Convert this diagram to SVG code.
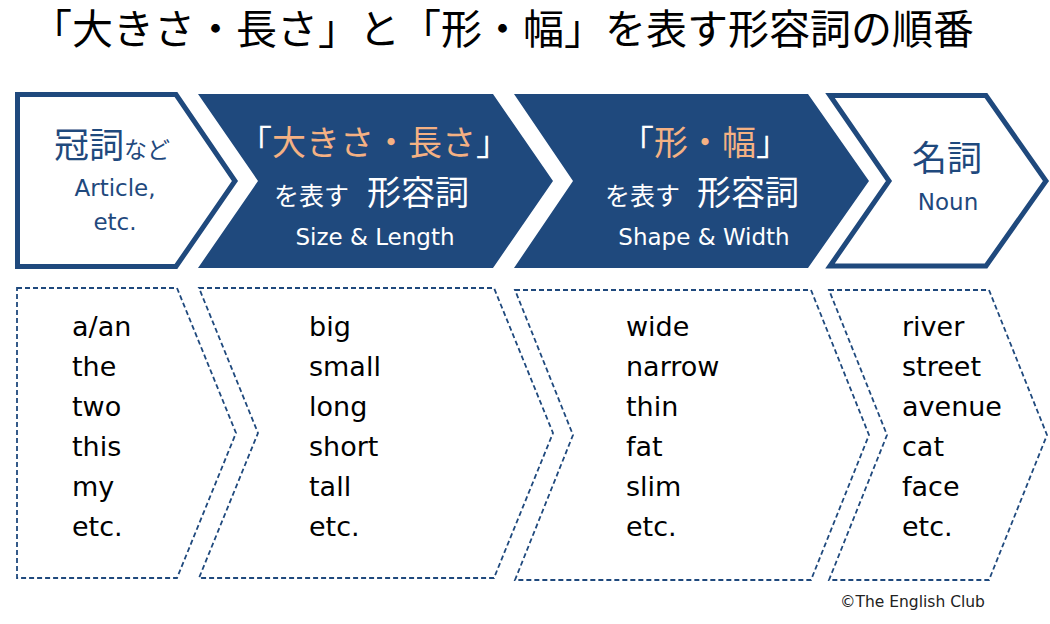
<svg xmlns="http://www.w3.org/2000/svg" width="1050" height="624" viewBox="0 0 1050 624">
<style>
.jp{font-family:"Noto Sans CJK JP","DejaVu Sans",sans-serif}
.lat{font-family:"DejaVu Sans","Noto Sans CJK JP",sans-serif}
.outline{fill:#fff;stroke:#1F497D;stroke-width:5;stroke-linejoin:miter}
.solid{fill:#1F497D;stroke:none}
.dash{fill:#fff;stroke:#1F497D;stroke-width:1.8;stroke-dasharray:5 3}
.navy{fill:#1F497D}
.white{fill:#fff}
.orange{fill:#F4B183}
.list{font-family:"DejaVu Sans",sans-serif;font-size:27px;fill:#000}
</style>
<rect width="1050" height="624" fill="#fff"/>
<text id="title" class="jp" x="31" y="44" font-size="41" fill="#000">「大きさ・長さ」と「形・幅」を表す形容詞の順番</text>

<g id="node-article">
<polygon class="outline" points="17.5,94.5 176,94.5 235,181 176,266.5 17.5,266.5"/>
<text class="jp navy" x="54" y="158"><tspan font-size="35">冠詞</tspan><tspan font-size="23">など</tspan></text>
<text class="lat navy" x="115" y="196" font-size="23" text-anchor="middle">Article,</text>
<text class="lat navy" x="115" y="230" font-size="23" text-anchor="middle">etc.</text>
</g>

<g id="node-size">
<polygon class="solid" points="198,94 493,94 553,181 493,268 198,268 258,181"/>
<text class="jp" x="374" y="155" font-size="34" text-anchor="middle"><tspan class="white">「</tspan><tspan class="orange">大きさ・長さ</tspan><tspan class="white">」</tspan></text>
<text class="jp white" x="274" y="205" font-size="25">を表す</text>
<text class="jp white" x="367" y="205" font-size="34">形容詞</text>
<text class="lat white" x="375" y="245" font-size="23" text-anchor="middle">Size &amp; Length</text>
</g>

<g id="node-shape">
<polygon class="solid" points="514,94 808,94 869,181 808,268 514,268 573,181"/>
<text class="jp" x="705" y="155" font-size="34" text-anchor="middle"><tspan class="white">「</tspan><tspan class="orange">形・幅</tspan><tspan class="white">」</tspan></text>
<text class="jp white" x="605" y="205" font-size="25">を表す</text>
<text class="jp white" x="697" y="205" font-size="34">形容詞</text>
<text class="lat white" x="704" y="245" font-size="23" text-anchor="middle">Shape &amp; Width</text>
</g>

<g id="node-noun">
<polygon class="outline" points="830,95.5 986,95.5 1046,181 986,266 830,266 889,181"/>
<text class="jp navy" x="947" y="171" font-size="35" text-anchor="middle">名詞</text>
<text class="lat navy" x="948" y="210" font-size="23" text-anchor="middle">Noun</text>
</g>

<g id="list-article">
<polygon class="dash" points="17,288 177,288 236,433 177,578 17,578"/>
<text class="list" x="72" y="336">a/an</text>
<text class="list" x="72" y="376">the</text>
<text class="list" x="72" y="416">two</text>
<text class="list" x="72" y="456">this</text>
<text class="list" x="72" y="496">my</text>
<text class="list" x="72" y="536">etc.</text>
</g>

<g id="list-size">
<polygon class="dash" points="199,288 494,288 553,433 494,578 199,578 258,433"/>
<text class="list" x="309" y="336">big</text>
<text class="list" x="309" y="376">small</text>
<text class="list" x="309" y="416">long</text>
<text class="list" x="309" y="456">short</text>
<text class="list" x="309" y="496">tall</text>
<text class="list" x="309" y="536">etc.</text>
</g>

<g id="list-shape">
<polygon class="dash" points="515,290 811,290 869,435 811,580 515,580 573,435"/>
<text class="list" x="626" y="336">wide</text>
<text class="list" x="626" y="376">narrow</text>
<text class="list" x="626" y="416">thin</text>
<text class="list" x="626" y="456">fat</text>
<text class="list" x="626" y="496">slim</text>
<text class="list" x="626" y="536">etc.</text>
</g>

<g id="list-noun">
<polygon class="dash" points="829,290 989,290 1047,435 989,580 829,580 887,435"/>
<text class="list" x="902" y="336">river</text>
<text class="list" x="902" y="376">street</text>
<text class="list" x="902" y="416">avenue</text>
<text class="list" x="902" y="456">cat</text>
<text class="list" x="902" y="496">face</text>
<text class="list" x="902" y="536">etc.</text>
</g>

<g id="connectors"></g>

<text id="copyright" class="lat" x="840" y="607" font-size="15.5" fill="#222">©The English Club</text>
</svg>
